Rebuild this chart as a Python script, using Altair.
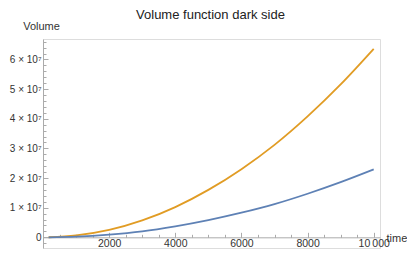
import altair as alt
import pandas as pd

# ---- data ----
time = [170, 1000, 2000, 3000, 4000, 5000, 6000, 7000, 8000, 9000, 10000]
orange_vol = [20000, 640000, 2500000, 5700000, 10200000, 16000000, 23000000,
              31200000, 40800000, 51600000, 63600000]
blue_vol = [7000, 230000, 900000, 2000000, 3700000, 5800000, 8300000,
            11200000, 14700000, 18600000, 22900000]
series_names = ["dark side", "volume"]
series_colors = ["#E19C24", "#5E81B5"]
chart_title = "Volume function dark side"

x_major = [2000, 4000, 6000, 8000, 10000]
y_major = [0, 10000000, 20000000, 30000000, 40000000, 50000000, 60000000]
x_ticks = list(range(500, 10001, 500))
y_ticks = list(range(-2000000, 66000001, 2000000))

df = pd.DataFrame({
    "time": time + time,
    "volume": orange_vol + blue_vol,
    "series": [series_names[0]] * len(time) + [series_names[1]] * len(time),
})

# ---- layout ----
X_MIN, X_MAX = 0, 10190
Y_MIN, Y_MAX = -3600000, 66900000
W, H = 337, 209
zero_px = H * (Y_MAX - 0) / (Y_MAX - Y_MIN)

FONT = "Liberation Sans"
AXIS_COLOR = "#ababab"
LABEL_COLOR = "#333333"

xs = alt.Scale(domain=[X_MIN, X_MAX], nice=False, zero=False)
ys = alt.Scale(domain=[Y_MIN, Y_MAX], nice=False, zero=False)

base = alt.Chart(df)

lines = base.mark_line(strokeWidth=1.8, interpolate="monotone", clip=True).encode(
    x=alt.X("time:Q", scale=xs, axis=alt.Axis(
        orient="top", offset=-zero_px, labels=False, grid=False,
        values=x_ticks, domainColor=AXIS_COLOR, tickColor=AXIS_COLOR,
        domainWidth=1, tickWidth=1,
        tickSize={"condition": {"test": "datum.value % 2000 === 0", "value": 5}, "value": 3},
        title=chart_title, titleFont=FONT, titleFontSize=13, titleFontWeight="normal",
        titleColor="#222222", titleX=167, titleY=-(24 + zero_px), titleAlign="center",
        titleBaseline="middle", titleAngle=0,
    )),
    y=alt.Y("volume:Q", scale=ys, axis=alt.Axis(
        orient="right", offset=-W, labels=False, title=None, grid=False,
        values=y_ticks, domainColor=AXIS_COLOR, tickColor=AXIS_COLOR,
        domainWidth=1, tickWidth=1,
        tickSize={"condition": {"test": "datum.value % 10000000 === 0", "value": 5}, "value": 3},
    )),
    color=alt.Color("series:N", scale=alt.Scale(domain=series_names, range=series_colors),
                    legend=None),
)

labels = base.mark_line(opacity=0).encode(
    x=alt.X("time:Q", scale=xs, axis=alt.Axis(
        orient="bottom", offset=-(H - zero_px), domain=False, ticks=False, tickSize=0,
        grid=False, values=x_major, labelPadding=1,
        labelExpr="datum.value === 10000 ? '10\u2009000' : format(datum.value, 'd')",
        labelFont=FONT, labelFontSize=10.5, labelColor=LABEL_COLOR,
        title="time", titleFont=FONT, titleFontSize=11, titleFontWeight="normal",
        titleColor=LABEL_COLOR, titleX=343, titleY=1, titleAlign="left",
        titleBaseline="middle", titleAngle=0,
    )),
    y=alt.Y("volume:Q", scale=ys, axis=alt.Axis(
        orient="left", domain=False, ticks=False, tickSize=0, grid=False,
        values=y_major, labelPadding=2,
        labelExpr="datum.value === 0 ? '0' : format(datum.value / 10000000, 'd') + ' \u00d7 10\u2077'",
        labelFont=FONT, labelFontSize=10, labelColor=LABEL_COLOR,
        title="Volume", titleFont=FONT, titleFontSize=11, titleFontWeight="normal",
        titleColor=LABEL_COLOR, titleX=-2, titleY=-13, titleAlign="center",
        titleBaseline="middle", titleAngle=0,
    )),
    detail="series:N",
)

chart = alt.layer(lines, labels).resolve_axis(
    x="independent", y="independent"
).properties(
    width=W, height=H,
    autosize=alt.AutoSizeParams(type="none"),
    padding={"left": 35, "top": 31, "right": 27, "bottom": 1},
).configure_view(stroke=None).configure(background="white")

chart.save("out.html", embed_options={"renderer": "svg", "actions": False})
